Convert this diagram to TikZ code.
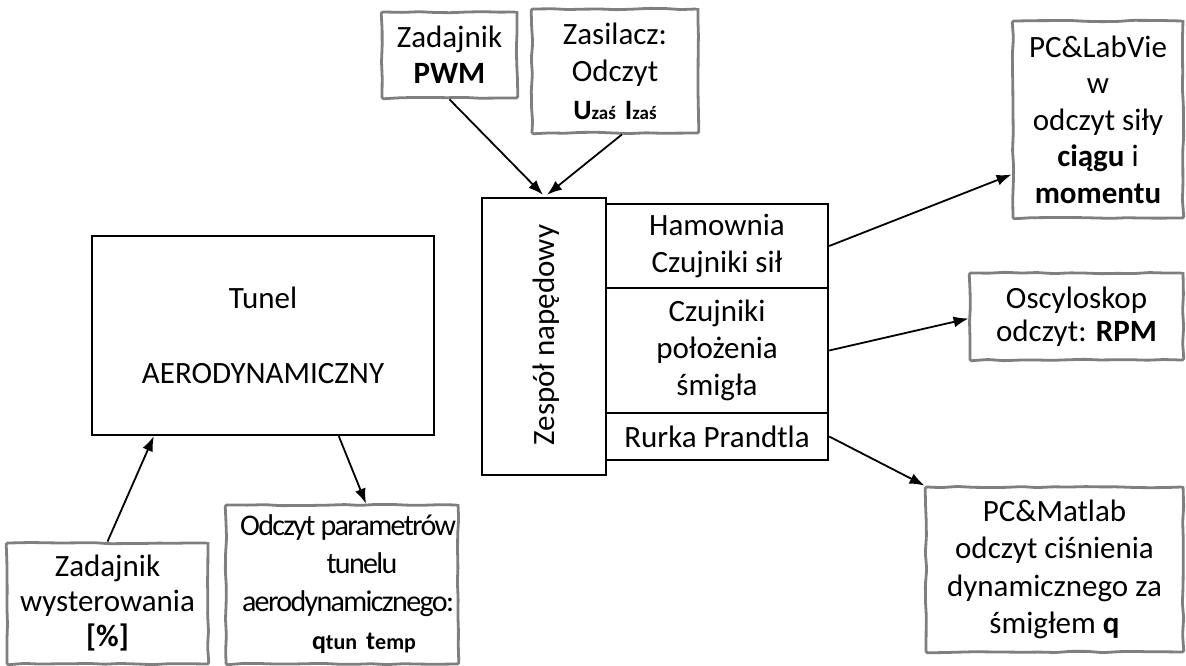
\documentclass[tikz,border=0pt]{standalone}
\usepackage{fontspec}
\setmainfont{Carlito}
\usetikzlibrary{arrows.meta,calc,decorations.pathmorphing}
\definecolor{sk}{HTML}{7F7F7F}
\newcommand\fs{\fontsize{31}{37.5}\selectfont}
\newcommand\mysub[1]{{\fontsize{19}{19}\selectfont #1}}
\newcommand\mysubq[1]{{\fontsize{22}{22}\selectfont #1}}
\tikzset{
 sketch/.style={draw=sk, line width=2.8pt, decorate, decoration={random steps,segment length=16pt,amplitude=0.7pt}, rounded corners=1.5pt, align=center, inner sep=0pt, font=\fs},
 blk/.style={draw=black, line width=2.4pt, align=center, inner sep=0pt, font=\fs},
 arr/.style={line width=1.8pt, -{Latex[length=15pt,width=11pt]}}
}
\begin{document}
\begin{tikzpicture}[x=1pt,y=-1pt]
\pgfmathsetseed{7}
\useasboundingbox (0,0) rectangle (1186,666);
% grey sketch boxes
\node[sketch, font=\fontsize{31}{36}\selectfont, minimum width=135, minimum height=86] (pwm) at (449.5,55) {Zadajnik\\\textbf{PWM}};
\node[sketch, minimum width=166, minimum height=124] (zas) at (615,71) {Zasilacz:\\Odczyt\\{\fontsize{28}{37.5}\selectfont\bfseries U\mysub{zaś}\hspace{9pt}I\mysub{zaś}}};
\node[sketch, font=\fontsize{31}{36.5}\selectfont, minimum width=170, minimum height=197] (lab) at (1098,119.5) {PC\&LabVie\\w\\odczyt siły\\\textbf{ciągu} i\\\textbf{momentu}};
\node[sketch, font=\fontsize{31}{33}\selectfont, minimum width=213, minimum height=87] (osc) at (1076.5,316.5) {Oscyloskop\\odczyt: \textbf{RPM}};
\node[sketch, font=\fontsize{31}{37.3}\selectfont, minimum width=257, minimum height=165] (mat) at (1054.5,569.5) {PC\&Matlab\\odczyt ciśnienia\\dynamicznego za\\śmigłem \textbf{q}};
\node[sketch, font=\fontsize{31}{35}\selectfont, minimum width=201, minimum height=121] (zw) at (107.5,603.5) {Zadajnik\\wysterowania\\\textbf{[\%]}};
\node[sketch, font=\fontsize{30}{38}\selectfont\addfontfeature{LetterSpace=-5.5}, minimum width=232, minimum height=159] (odc) at (342,584.5) {\hspace*{12pt}Odczyt parametrów\\\hspace*{40pt}tunelu\\\hspace*{12pt}aerodynamicznego:\\{\addfontfeature{LetterSpace=0}\fontsize{26}{38}\selectfont\bfseries\hspace*{44pt}q\mysubq{tun}\hspace{9pt}t\mysubq{emp}}};
% black boxes
\node[blk, font=\fontsize{31}{37.5}\selectfont, minimum width=342, minimum height=199] (tun) at (263,335.5) {Tunel\\[37.5pt]AERODYNAMICZNY};
\node[blk, minimum width=124, minimum height=277] (zes) at (544,336.5) {};
\node[rotate=90, font=\fs, inner sep=0pt] (zest) at (546,335) {Zespół napędowy};
\node[blk, minimum width=222, minimum height=84] (ham) at (717,246) {Hamownia\\Czujniki sił};
\node[blk, font=\fontsize{31}{37}\selectfont, minimum width=222, minimum height=125] (czu) at (717,350.5) {Czujniki\\położenia\\śmigła};
\node[blk, minimum width=222, minimum height=47] (rur) at (717,436.5) {Rurka Prandtla};
% connectors
\draw[arr] (pwm.south) -- ($(zes.north)+(-1,-2)$);
\draw[arr] ($(zas.south)+(7,0)$) -- ($(zes.north)+(3,-2)$);
\draw[arr] (ham.east) -- ($(lab.west)+(0,55)$);
\draw[arr] (czu.east) -- ($(osc.west)+(0,2)$);
\draw[arr] (rur.east) -- (mat.north west);
\draw[arr] (zw.north) -- ($(tun.south west)+(63,0)$);
\draw[arr] ($(tun.south west)+(248,0)$) -- ($(odc.north)+(24,0)$);
\end{tikzpicture}
\end{document}
